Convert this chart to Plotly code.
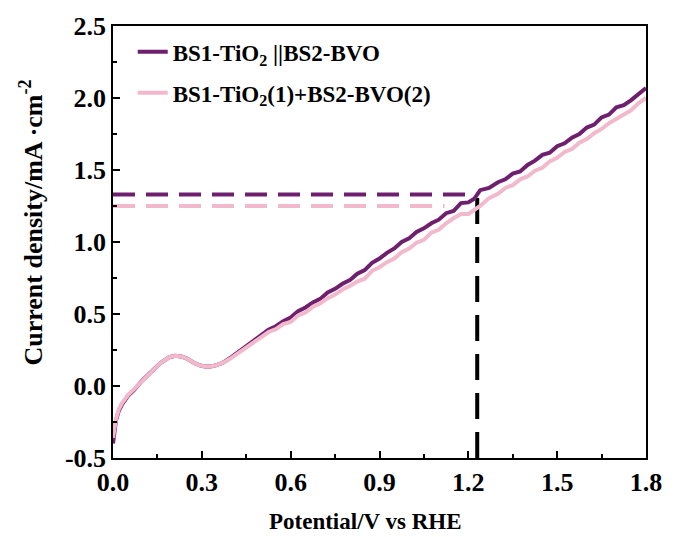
import plotly.graph_objects as go

# --- data ---
x_series = [0.000, 0.005, 0.010, 0.020, 0.030, 0.050, 0.070, 0.100, 0.130, 0.160, 0.190, 0.210,
            0.230, 0.250, 0.270, 0.290, 0.310, 0.330, 0.350, 0.370, 0.400, 0.430, 0.460, 0.500,
            0.525, 0.550, 0.575, 0.600, 0.625, 0.650, 0.675, 0.700, 0.725, 0.750, 0.775, 0.800,
            0.825, 0.850, 0.875, 0.900, 0.925, 0.950, 0.975, 1.000, 1.025, 1.050, 1.075, 1.100,
            1.125, 1.150, 1.175, 1.200, 1.220, 1.240, 1.270, 1.300, 1.325, 1.350, 1.375, 1.400,
            1.425, 1.450, 1.475, 1.500, 1.525, 1.550, 1.575, 1.600, 1.625, 1.650, 1.675, 1.700,
            1.725, 1.750, 1.775, 1.790, 1.800]
tandem = [-0.40, -0.30, -0.24, -0.17, -0.13, -0.07, -0.03, 0.04, 0.10, 0.16, 0.20, 0.21,
          0.205, 0.19, 0.165, 0.145, 0.135, 0.135, 0.145, 0.16, 0.20, 0.245, 0.29, 0.35,
          0.39, 0.415, 0.45, 0.475, 0.52, 0.545, 0.58, 0.605, 0.65, 0.675, 0.71, 0.735,
          0.78, 0.805, 0.855, 0.885, 0.925, 0.955, 1.00, 1.025, 1.07, 1.095, 1.13, 1.155,
          1.20, 1.215, 1.27, 1.275, 1.30, 1.36, 1.375, 1.415, 1.435, 1.475, 1.49, 1.535,
          1.565, 1.605, 1.62, 1.665, 1.685, 1.725, 1.75, 1.795, 1.815, 1.865, 1.885, 1.935,
          1.95, 1.985, 2.025, 2.055, 2.07]
combined = [-0.36, -0.28, -0.23, -0.16, -0.12, -0.065, -0.025, 0.04, 0.10, 0.16, 0.20, 0.21,
            0.205, 0.19, 0.165, 0.145, 0.135, 0.135, 0.145, 0.16, 0.195, 0.24, 0.28, 0.34,
            0.375, 0.395, 0.43, 0.445, 0.49, 0.51, 0.55, 0.575, 0.61, 0.635, 0.67, 0.695,
            0.725, 0.745, 0.80, 0.825, 0.86, 0.885, 0.93, 0.955, 0.995, 1.015, 1.065, 1.085,
            1.13, 1.165, 1.195, 1.195, 1.225, 1.25, 1.305, 1.335, 1.375, 1.395, 1.435, 1.455,
            1.495, 1.515, 1.56, 1.585, 1.625, 1.645, 1.69, 1.715, 1.755, 1.785, 1.825, 1.855,
            1.89, 1.915, 1.965, 1.985, 2.00]

series_names = ["BS1-TiO<sub>2</sub> ||BS2-BVO", "BS1-TiO<sub>2</sub>(1)+BS2-BVO(2)"]
colors = ["#6e206e", "#f2b8cc"]

x_title = "Potential/V vs RHE"
y_title = "Current density/mA ·cm<sup>-2</sup>"

ref_potential = 1.23
ref_tandem = 1.33
ref_combined = 1.25
ref_combined_xend = 1.12

x_ticks = [0.0, 0.3, 0.6, 0.9, 1.2, 1.5, 1.8]
x_ticklabels = ["0.0", "0.3", "0.6", "0.9", "1.2", "1.5", "1.8"]
y_ticks = [-0.5, 0.0, 0.5, 1.0, 1.5, 2.0, 2.5]
y_ticklabels = ["-0.5", "0.0", "0.5", "1.0", "1.5", "2.0", "2.5"]

font_family = "Liberation Serif"

fig = go.Figure()

# reference dashed lines
fig.add_trace(go.Scatter(x=[0, ref_potential], y=[ref_tandem, ref_tandem], mode="lines",
                         line=dict(color=colors[0], width=4, dash="22px,11px"),
                         showlegend=False, hoverinfo="skip"))
fig.add_trace(go.Scatter(x=[0, ref_combined_xend], y=[ref_combined, ref_combined], mode="lines",
                         line=dict(color=colors[1], width=4, dash="22px,11px"),
                         showlegend=False, hoverinfo="skip"))
fig.add_trace(go.Scatter(x=[ref_potential, ref_potential], y=[-0.5, ref_tandem], mode="lines",
                         line=dict(color="black", width=4, dash="26px,13px"),
                         showlegend=False, hoverinfo="skip"))

fig.add_trace(go.Scatter(x=x_series, y=tandem, mode="lines", name=series_names[0],
                         legendgroup="a", line=dict(color=colors[0], width=4)))
fig.add_trace(go.Scatter(x=x_series, y=combined, mode="lines", name=series_names[1],
                         legendgroup="b", line=dict(color=colors[1], width=4)))

axis_common = dict(
    showgrid=False, zeroline=False, showline=True, linecolor="black", linewidth=1.5,
    mirror=True, ticks="inside", ticklen=7, tickwidth=1.5, tickcolor="black",
    tickfont=dict(family=font_family, size=26, color="black", weight="bold"),
)

fig.update_xaxes(range=[0, 1.8], tickvals=x_ticks, ticktext=x_ticklabels,
                 minor=dict(ticks="inside", ticklen=4, tickwidth=1.5, tickcolor="black", dtick=0.15),
                 **axis_common)
fig.update_yaxes(range=[-0.5, 2.5], tickvals=y_ticks, ticktext=y_ticklabels,
                 minor=dict(ticks="inside", ticklen=4, tickwidth=1.5, tickcolor="black", dtick=0.25),
                 **axis_common)

fig.add_annotation(text=x_title, xref="paper", yref="paper", x=0.474, y=-0.147,
                   xanchor="center", yanchor="middle", showarrow=False,
                   font=dict(family=font_family, size=23, color="black", weight="bold"))
fig.add_annotation(text=y_title, xref="paper", yref="paper", x=-0.152, y=0.545,
                   xanchor="center", yanchor="middle", textangle=-90, showarrow=False,
                   font=dict(family=font_family, size=26, color="black", weight="bold"))

fig.update_layout(
    width=674, height=537,
    margin=dict(l=113, r=21, t=22, b=79),
    plot_bgcolor="white", paper_bgcolor="white",
    font=dict(family=font_family, color="black"),
    legend=dict(x=0.037, y=0.99, xanchor="left", yanchor="top", bgcolor="rgba(0,0,0,0)",
                font=dict(family=font_family, size=23, color="black", weight="bold"),
                tracegroupgap=8),
    showlegend=True,
)

fig.write_html("out.html")
